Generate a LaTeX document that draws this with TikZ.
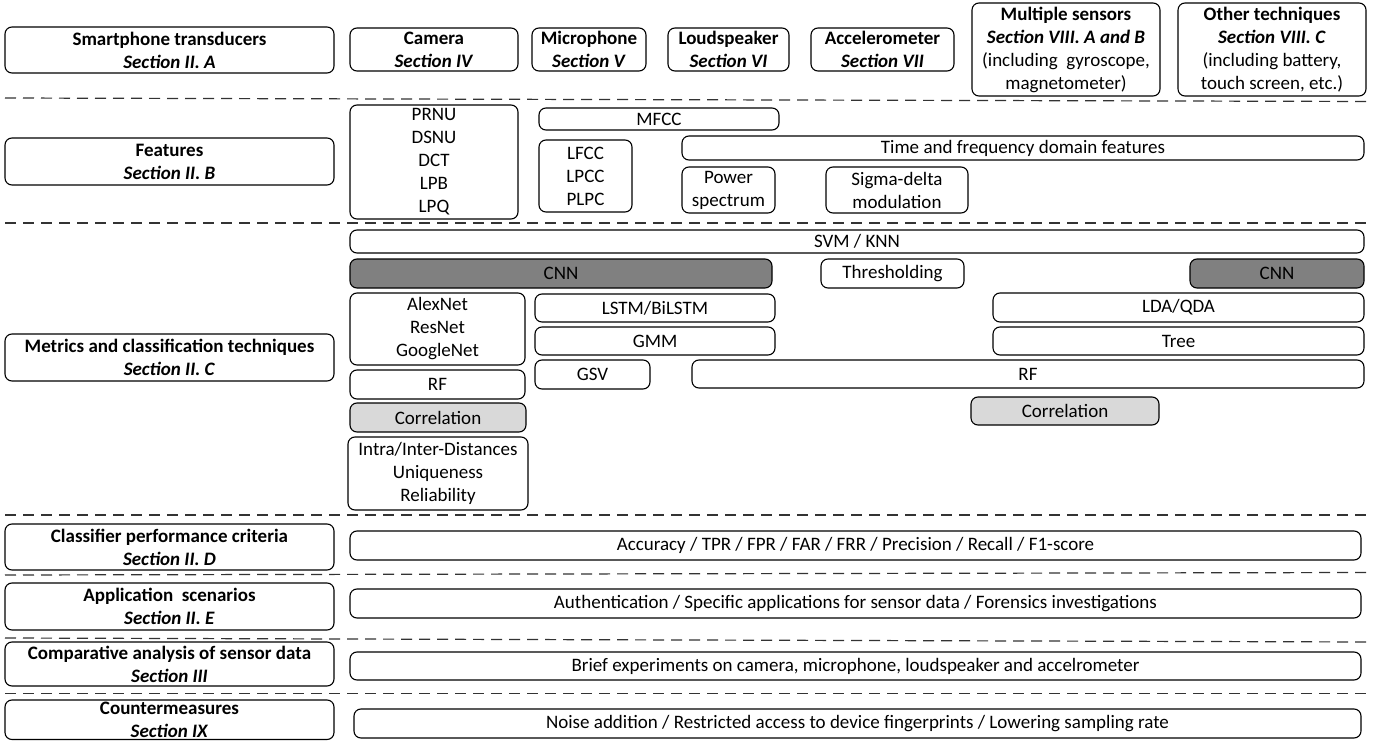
\documentclass[tikz,border=0pt]{standalone}
\usepackage{fontspec}
\setmainfont{Carlito}
\begin{document}
\tikzset{
  box/.style={draw=black, line width=1.1pt, rounded corners=7pt, fill=white,
    inner xsep=1pt, inner ysep=0pt, align=center,
    font={\fontsize{19}{23}\selectfont}},
  darkbox/.style={box, fill=black!50},
  lightbox/.style={box, fill=black!15},
  sepline/.style={draw=black!80, line width=1.2pt, dash pattern=on 11pt off 7pt}
}
\newcommand{\sect}[1]{\textbf{\textit{#1}}}
\newcommand{\bx}[7][]{%
  \pgfmathsetmacro\bw{#5-#3}\pgfmathsetmacro\bh{#6-#4}%
  \pgfmathsetmacro\cx{(#3+#5)/2}\pgfmathsetmacro\cy{(#4+#6)/2}%
  \node[box,#1,minimum width=\bw pt,minimum height=\bh pt] (#2) at (\cx,\cy) {#7};}
\begin{tikzpicture}[x=1pt,y=-1pt]
\useasboundingbox (0,0) rectangle (1377,741);
% separators
\draw[sepline] (5,98) -- (1370,101.5);
\draw[sepline] (5,223) -- (1370,223);
\draw[sepline] (5,515) -- (1370,515);
\draw[sepline] (5,575) -- (1370,572.5);
\draw[sepline] (5,638) -- (1370,642);
\draw[sepline] (5,693.5) -- (1370,693.5);
% row 1
\bx{trans}{5}{27}{334}{73}{\textbf{Smartphone transducers}\\\sect{Section II. A}}
\bx{cam}{350}{28}{518}{71}{\textbf{Camera}\\\sect{Section IV}}
\bx{mic}{532}{28}{646}{71}{\textbf{Microphone}\\\sect{Section V}}
\bx{spk}{668}{28}{789}{71}{\textbf{Loudspeaker}\\\sect{Section VI}}
\bx{acc}{811}{28}{954}{71}{\textbf{Accelerometer}\\\sect{Section VII}}
\bx{multi}{972}{3}{1160}{96}{\textbf{Multiple sensors}\\\sect{Section VIII. A and B}\\(including\ \ gyroscope,\\magnetometer)}
\bx{other}{1178}{3}{1366}{96}{\textbf{Other techniques}\\\sect{Section VIII. C}\\(including battery,\\touch screen, etc.)}
% row 2
\bx{feat}{5}{138}{334}{185}{\textbf{Features}\\\sect{Section II. B}}
\bx{prnu}{350}{105}{518}{219}{PRNU\\DSNU\\DCT\\LPB\\LPQ}
\bx{mfcc}{539}{108}{779}{130}{MFCC}
\bx{lfcc}{539}{140}{632}{212}{LFCC\\LPCC\\PLPC}
\bx{tfd}{682}{136}{1364}{160}{Time and frequency domain features}
\bx{pow}{682}{167}{775}{213}{Power\\spectrum}
\bx{sig}{826}{167}{968}{213}{Sigma-delta\\modulation}
% row 3
\bx{metr}{5}{334}{334}{381}{\textbf{Metrics and classification techniques}\\\sect{Section II. C}}
\bx{svm}{350}{230}{1364}{253}{SVM / KNN}
\bx[darkbox]{cnna}{350}{259}{772}{288}{CNN}
\bx{thr}{821}{259}{964}{288}{Thresholding}
\bx[darkbox]{cnnb}{1190}{259}{1364}{288}{CNN}
\bx{alex}{350}{293}{525}{365}{AlexNet\\ResNet\\GoogleNet}
\bx{lstm}{535}{294}{775}{322}{LSTM/BiLSTM}
\bx{gmm}{535}{327}{775}{355}{GMM}
\bx{lda}{993}{293}{1364}{322}{LDA/QDA}
\bx{tree}{993}{327}{1364}{355}{Tree}
\bx{gsv}{535}{360}{650}{389}{GSV}
\bx{rfb}{692}{360}{1364}{388}{RF}
\bx{rfa}{350}{370}{525}{399}{RF}
\bx[lightbox]{cora}{350}{403}{526}{432}{Correlation}
\bx[lightbox]{corb}{971}{397}{1159}{425}{Correlation}
\bx{intra}{348}{437}{528}{510}{Intra/Inter-Distances\\Uniqueness\\Reliability}
% lower rows
\bx{clas}{5}{524}{334}{570}{\textbf{Classifier performance criteria}\\\sect{Section II. D}}
\bx{accu}{350}{531}{1361}{560}{Accuracy / TPR / FPR / FAR / FRR / Precision / Recall / F1-score}
\bx{appl}{5}{583}{334}{630}{\textbf{Application\ \ scenarios}\\\sect{Section II. E}}
\bx{auth}{350}{589}{1361}{618}{Authentication / Specific applications for sensor data / Forensics investigations}
\bx{comp}{5}{642}{334}{686}{\textbf{Comparative analysis of sensor data}\\\sect{Section III}}
\bx{brief}{350}{652}{1361}{680}{Brief experiments on camera, microphone, loudspeaker and accelrometer}
\bx{cntr}{5}{700}{334}{739.5}{\textbf{Countermeasures}\\\sect{Section IX}}
\bx{noise}{354}{709}{1361}{738}{Noise addition / Restricted access to device fingerprints / Lowering sampling rate}
\end{tikzpicture}
\end{document}
